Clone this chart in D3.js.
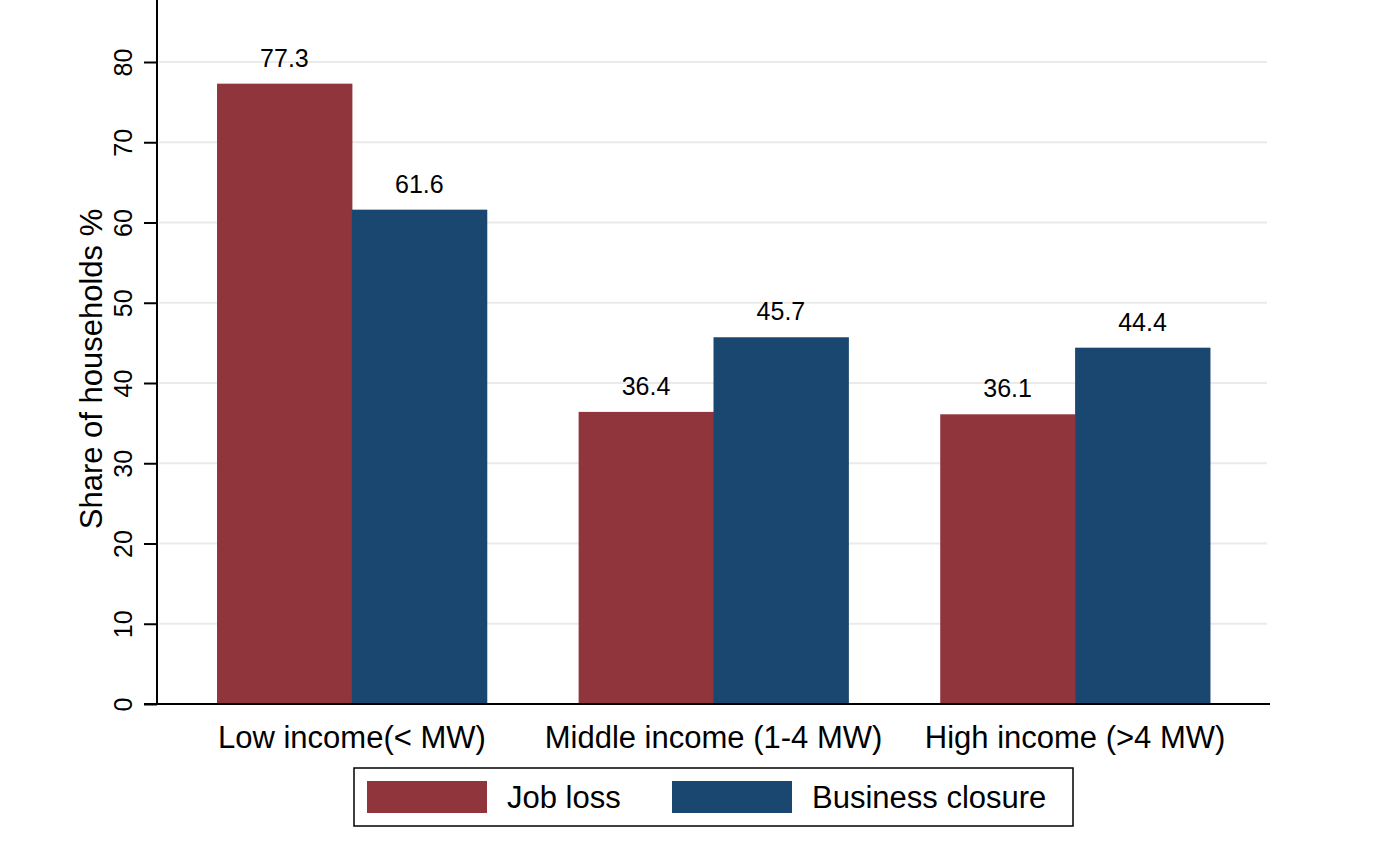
<!DOCTYPE html>
<html>
<head>
<meta charset="utf-8">
<script src="https://cdn.jsdelivr.net/npm/d3@7"></script>
<style>
  body { margin: 0; background: #fff; }
  text { font-family: "Liberation Sans", Arial, sans-serif; fill: #000; }
</style>
</head>
<body>
<svg id="chart"></svg>
<script>

var categories = ["Low income(< MW)", "Middle income (1-4 MW)", "High income (>4 MW)"];
var seriesNames = ["Job loss", "Business closure"];
var jobLoss = [77.3, 36.4, 36.1];
var businessClosure = [61.6, 45.7, 44.4];
var yTicks = [0, 10, 20, 30, 40, 50, 60, 70, 80];
var colors = ["#90353b", "#1a476f"];

var svgWidth = 1393;
var svgHeight = 848;
var margin = {left: 157, right: 123, top: 30, bottom: 144};

var svg = d3.select("#chart")
    .attr("width", svgWidth)
    .attr("height", svgHeight);

var plotW = svgWidth - margin.left - margin.right;
var plotH = svgHeight - margin.top - margin.bottom;

var g = svg.append("g")
    .attr("transform", "translate(" + margin.left + "," + margin.top + ")");

var yScale = d3.scaleLinear()
    .domain([0, 80])
    .range([plotH, 62 - margin.top]);

var xScale = d3.scaleBand()
    .domain(categories)
    .range([0, plotW])
    .paddingInner(0.254)
    .paddingOuter(0.166);

var xSub = d3.scaleBand()
    .domain(seriesNames)
    .range([0, xScale.bandwidth()]);

// gridlines
g.selectAll("line.grid")
    .data(yTicks.filter(d => d > 0))
    .enter()
    .append("line")
    .attr("class", "grid")
    .attr("x1", 2)
    .attr("x2", plotW - 3)
    .attr("y1", d => yScale(d))
    .attr("y2", d => yScale(d))
    .attr("stroke", "#eaeaea")
    .attr("stroke-width", 2);

// bars
var rows = categories.map(function(c, i) {
    return {cat: c, values: [jobLoss[i], businessClosure[i]]};
});

var groups = g.selectAll("g.grp")
    .data(rows)
    .enter()
    .append("g")
    .attr("class", "grp")
    .attr("transform", d => "translate(" + xScale(d.cat) + ",0)");

groups.selectAll("rect")
    .data(d => d.values.map((v, j) => ({name: seriesNames[j], v: v, j: j})))
    .enter()
    .append("rect")
    .attr("x", d => xSub(d.name))
    .attr("width", xSub.bandwidth() + 0.5)
    .attr("y", d => yScale(d.v))
    .attr("height", d => plotH - yScale(d.v))
    .attr("fill", d => colors[d.j]);

groups.selectAll("text.val")
    .data(d => d.values.map((v, j) => ({name: seriesNames[j], v: v, j: j})))
    .enter()
    .append("text")
    .attr("class", "val")
    .attr("x", d => xSub(d.name) + xSub.bandwidth() / 2)
    .attr("y", d => yScale(d.v) - 17)
    .attr("text-anchor", "middle")
    .style("font-size", "25px")
    .text(d => d.v.toFixed(1));

// y axis
var yAxis = g.append("g")
    .call(d3.axisLeft(yScale).tickValues(yTicks).tickSize(13).tickPadding(0).tickFormat(d3.format("d")));
yAxis.select(".domain").attr("stroke", "#000").attr("stroke-width", 2)
    .attr("d", "M0," + plotH + "V" + (-margin.top + 0));
yAxis.selectAll(".tick line").attr("stroke", "#000").attr("stroke-width", 2);
yAxis.selectAll(".tick text")
    .attr("x", 0)
    .attr("y", 0)
    .attr("dy", null)
    .attr("text-anchor", "middle")
    .attr("transform", "translate(-25,0) rotate(-90)")
    .style("font-size", "25px")
    .style("font-family", "'Liberation Sans', Arial, sans-serif");

// x axis
g.append("line")
    .attr("x1", -13)
    .attr("x2", plotW)
    .attr("y1", plotH)
    .attr("y2", plotH)
    .attr("stroke", "#000")
    .attr("stroke-width", 2);

g.selectAll("text.xlab")
    .data(categories)
    .enter()
    .append("text")
    .attr("class", "xlab")
    .attr("x", d => xScale(d) + xScale.bandwidth() / 2)
    .attr("y", plotH + 44)
    .attr("text-anchor", "middle")
    .style("font-size", "31px")
    .text(d => d);

// y title
svg.append("text")
    .attr("transform", "translate(102,369) rotate(-90)")
    .attr("text-anchor", "middle")
    .style("font-size", "31px")
    .text("Share of households %");

// legend
var legend = svg.append("g").attr("transform", "translate(354,768)");
legend.append("rect")
    .attr("width", 719)
    .attr("height", 58)
    .attr("fill", "#fff")
    .attr("stroke", "#000")
    .attr("stroke-width", 1.5);

var legendX = [13, 318];
var items = legend.selectAll("g.item")
    .data(seriesNames)
    .enter()
    .append("g")
    .attr("transform", (d, i) => "translate(" + legendX[i] + ",13)");
items.append("rect")
    .attr("width", 120)
    .attr("height", 32)
    .attr("fill", (d, i) => colors[i]);
items.append("text")
    .attr("x", 140)
    .attr("y", 27)
    .style("font-size", "31px")
    .text(d => d);

</script>
</body>
</html>
